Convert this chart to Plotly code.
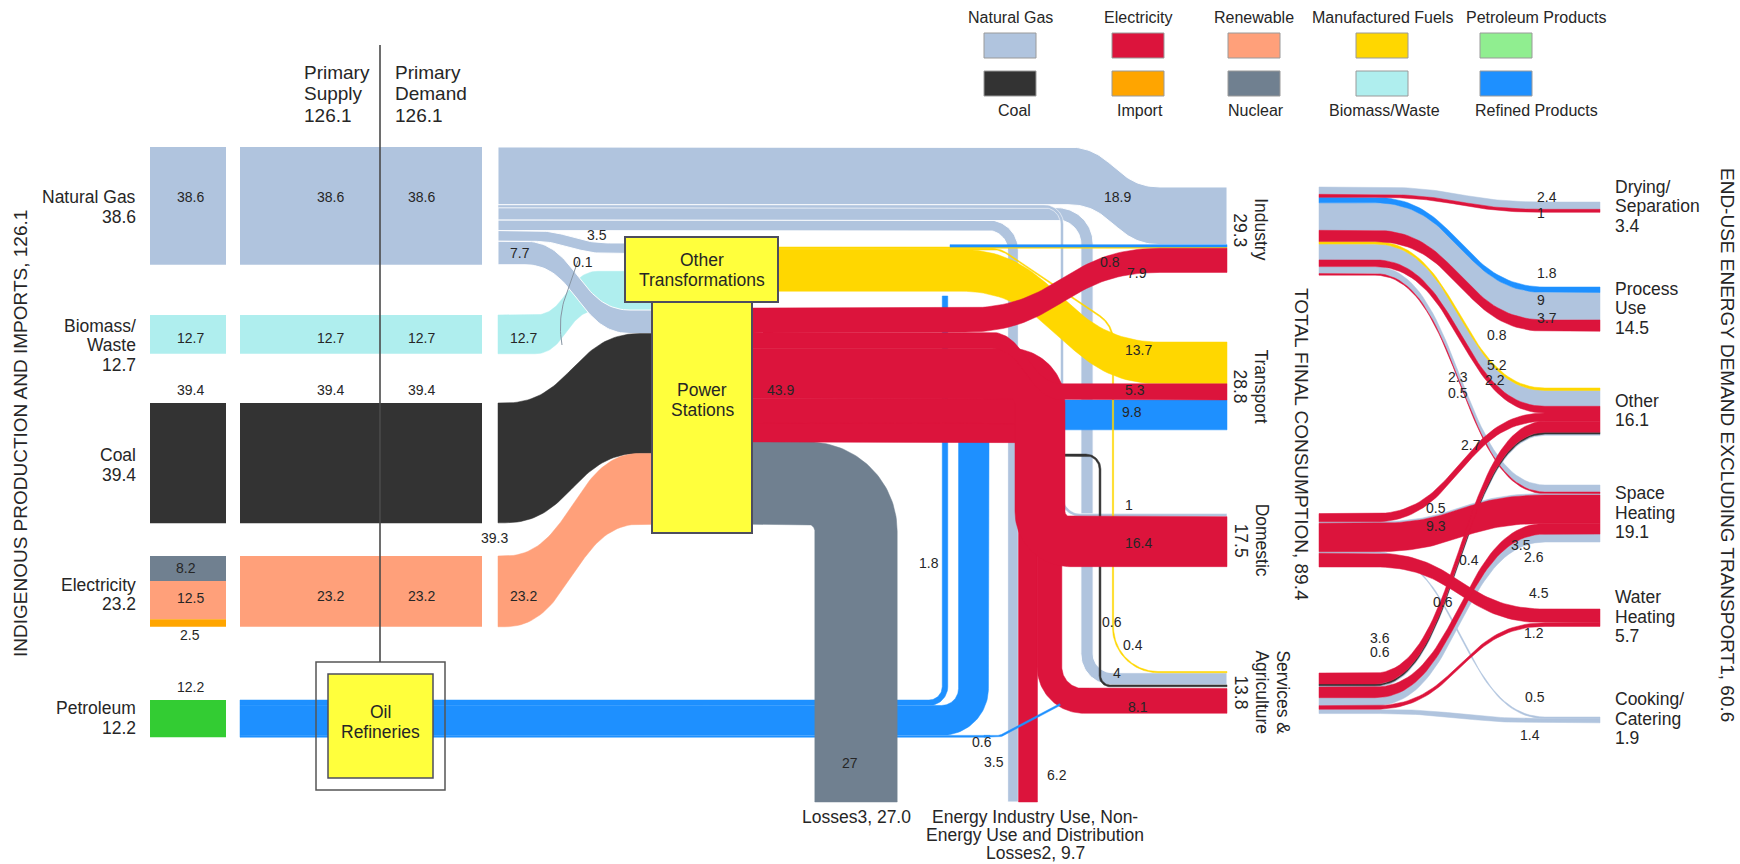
import numpy as np
import plotly.graph_objects as go

# ======================= DATA =======================
source_names = ["Natural Gas", "Biomass/Waste", "Coal", "Electricity", "Petroleum"]
source_values = [38.6, 12.7, 39.4, 23.2, 12.2]
elec_part_names = ["Nuclear", "Renewable", "Import"]
elec_part_values = [8.2, 12.5, 2.5]
primary_supply = 126.1
primary_demand = 126.1

gas_targets = ["Industry", "Domestic", "Services", "Energy Industry", "Other Transformations", "Power Stations"]
gas_values = [18.9, 1.0, 4.0, 3.5, 3.5, 7.7]
gas_minor = 0.1

coal_to_power = 39.3
biomass_to_power = 12.7
elec_to_power = 23.2

power_out_names = ["Electricity", "Losses"]
power_out_values = [43.9, 27.0]

elec_targets = ["Industry", "Transport", "Domestic", "Services", "Energy Industry"]
elec_values = [7.9, 5.3, 16.4, 8.1, 6.2]

manuf_targets = ["Industry", "Services", "Transport"]
manuf_values = [0.4, 0.4, 13.7]

refined_targets = ["Industry", "Transport", "Services"]
refined_values = [1.8, 9.8, 0.6]
refined_industry_value = 0.8
coal_services_value = 0.6

final_names = ["Industry", "Transport", "Domestic", "Services & Agriculture"]
final_values = [29.3, 28.8, 17.5, 13.8]
total_final = 89.4
losses_total = 27.0
eiu_total = 9.7

enduse_names = ["Drying/Separation", "Process Use", "Other", "Space Heating", "Water Heating", "Cooking/Catering"]
enduse_values = [3.4, 14.5, 16.1, 19.1, 5.7, 1.9]
enduse_total = 60.6

eu_source = ["Industry"] * 10 + ["Domestic"] * 5 + ["Services"] * 7
eu_target = ["Drying/Separation", "Drying/Separation", "Process Use", "Process Use", "Process Use",
             "Other", "Other", "Other", "Space Heating", "Space Heating",
             "Other", "Space Heating", "Space Heating", "Cooking/Catering", "Water Heating",
             "Other", "Other", "Other", "Space Heating", "Space Heating", "Water Heating", "Cooking/Catering"]
eu_fuel = ["gas", "elec", "refined", "gas", "elec", "manuf", "gas", "elec", "gas", "elec",
           "elec", "gas", "elec", "gas", "elec",
           "elec", "coal", "gas", "elec", "gas", "elec", "gas"]
eu_value = [2.4, 1.0, 1.8, 9.0, 3.7, 0.8, 5.2, 2.2, 2.3, 0.5,
            2.7, 0.5, 9.3, 0.5, 4.5,
            3.6, 0.6, 0.4, 3.5, 2.6, 1.2, 1.4]

legend_row1 = ["Natural Gas", "Electricity", "Renewable", "Manufactured Fuels", "Petroleum Products"]
legend_row2 = ["Coal", "Import", "Nuclear", "Biomass/Waste", "Refined Products"]

# ======================= STYLE / LAYOUT =======================
K = 3.05                      # pixels per unit of energy
FONT = "Liberation Sans, Arial, Helvetica, sans-serif"
TXT = "#262626"
C = {"gas": "#B0C4DE", "elec": "#DC143C", "renew": "#FFA07A", "manuf": "#FFD700",
     "petrol": "#90EE90", "coal": "#333333", "import": "#FFA500", "nuclear": "#708090",
     "biomass": "#AFEEEE", "refined": "#1E90FF", "petrol_box": "#33CC33", "box": "#FFFF3C",
     "edge": "#4D4D5E"}
SRC_COLOR = [C["gas"], C["biomass"], C["coal"], C["renew"], C["petrol_box"]]
PART_COLOR = [C["nuclear"], C["renew"], C["import"]]
FUEL_COLOR = {"gas": C["gas"], "elec": C["elec"], "refined": C["refined"], "manuf": C["manuf"], "coal": C["coal"]}
LEG_C1 = [C["gas"], C["elec"], C["renew"], C["manuf"], C["petrol"]]
LEG_C2 = [C["coal"], C["import"], C["nuclear"], C["biomass"], C["refined"]]

X1 = (150, 226)
X2 = (240, 482)
XDIV = 380
XF = 498
ROW_TOP = [147, 315, 403, 556, 700]
NAME_Y = [207, 345, 465, 594.5, 718]
VAL_Y = [197, 338, None, 596, None]
VAL_X = (190, 330, 421)
OT_BOX = (625, 778, 237, 302)
PS_BOX = (652, 752, 302, 533)
OIL_OUT = (316, 445, 662, 790)
OIL_IN = (328, 433, 674, 778)
PS_IN_TOP = 271.3
PS_OUT_TOP = 308
OT_IN_Y = 243
OT_OUT_TOP = 247
BAR_X1 = 1227
BAR_X0 = 1160
BAR_TOP = {"Industry": 187, "Transport": 342, "Domestic": 513.6, "Services": 671.5}
Y_BOTTOM = 802
EU_XL, EU_C0, EU_C1, EU_XR = 1319, 1375, 1545, 1600
EU_SRC_TOP = {"Industry": 187, "Domestic": 513.6, "Services": 673}
EU_TGT_TOP = {"Drying/Separation": 202, "Process Use": 287, "Other": 388,
              "Space Heating": 485, "Water Heating": 609, "Cooking/Catering": 717}
EU_LABEL_POS = [(1547, 197), (1541, 213), (1547, 273), (1541, 300), (1547, 318), (1497, 335),
                (1497, 365), (1495, 380), (1458, 377), (1458, 393), (1471, 445), (1436, 508),
                (1436, 526), (1535, 697), (1539, 593), (1380, 638), (1380, 652), (1469, 560),
                (1521, 545), (1534, 557), (1534, 633), (1530, 735)]
EU_EXTRA_LABEL = [(16, 1443, 602)]
LEG_X = [984, 1112, 1228, 1356, 1480]
LEG_W = 52
LEG_T1_SHIFT = [0, 0, 0, 0, 30]
LEG_T2_SHIFT = [4, 2, 2, 2, 30]

fig = go.Figure()
shapes = []
annos = []


def fmt(v):
    return f"{v:g}"


def fmt1(v):
    return f"{v:.1f}"


def stack(top, vals):
    out, y = [], top
    for v in vals:
        out.append((y, y + v * K))
        y += v * K
    return out


def mid(p):
    return (p[0] + p[1]) / 2


def bez(p0, p1, p2, p3, n=48):
    t = np.linspace(0, 1, n)[:, None]
    p0, p1, p2, p3 = (np.array(p, float) for p in (p0, p1, p2, p3))
    return (1 - t) ** 3 * p0 + 3 * (1 - t) ** 2 * t * p1 + 3 * (1 - t) * t ** 2 * p2 + t ** 3 * p3


def sankey_poly(xa, x0, y0, x1, y1, xb, w):
    xm = (x0 + x1) / 2
    top = bez((x0, y0), (xm, y0), (xm, y1), (x1, y1))
    bot = bez((x1, y1 + w), (xm, y1 + w), (xm, y0 + w), (x0, y0 + w))
    xs = [xa] + list(top[:, 0]) + [xb, xb] + list(bot[:, 0]) + [xa, xa]
    ys = [y0] + list(top[:, 1]) + [y1, y1 + w] + list(bot[:, 1]) + [y0 + w, y0]
    return xs, ys


def route_poly(pts, w, radii):
    pts = [np.array(p, float) for p in pts]
    samples = []
    d0 = pts[1] - pts[0]
    samples.append((pts[0], d0 / np.linalg.norm(d0)))
    n_int = len(pts) - 2
    for i in range(1, len(pts) - 1):
        A, B, Cc = pts[i - 1], pts[i], pts[i + 1]
        u = A - B
        lu = np.linalg.norm(u)
        u = u / lu
        v = Cc - B
        lv = np.linalg.norm(v)
        v = v / lv
        phi = np.arccos(np.clip(np.dot(u, v), -1, 1))
        r = radii[i - 1]
        if phi > np.pi - 1e-6 or r <= 0:
            samples.append((B, -u))
            continue
        t = r / np.tan(phi / 2)
        tmax = min(lu if i == 1 else lu / 2, lv if i == n_int else lv / 2)
        if t > tmax:
            t = tmax
            r = t * np.tan(phi / 2)
        T1 = B + u * t
        T2 = B + v * t
        bis = (u + v) / np.linalg.norm(u + v)
        O = B + bis * (r / np.sin(phi / 2))
        a1 = np.arctan2(T1[1] - O[1], T1[0] - O[0])
        a2 = np.arctan2(T2[1] - O[1], T2[0] - O[0])
        da = (a2 - a1 + np.pi) % (2 * np.pi) - np.pi
        n = max(10, int(abs(da) * r / 2) + 10)
        for a in np.linspace(a1, a1 + da, n):
            p = O + r * np.array([np.cos(a), np.sin(a)])
            tg = np.array([-np.sin(a), np.cos(a)]) * np.sign(da)
            samples.append((p, tg))
    dn = pts[-1] - pts[-2]
    samples.append((pts[-1], dn / np.linalg.norm(dn)))
    left, right = [], []
    for p, tg in samples:
        nrm = np.array([-tg[1], tg[0]])
        left.append(p + nrm * w / 2)
        right.append(p - nrm * w / 2)
    poly = left + right[::-1] + [left[0]]
    return [q[0] for q in poly], [q[1] for q in poly]


def add_poly(xy, color, outline=None, ow=1.0):
    xs, ys = xy
    fig.add_trace(go.Scatter(x=xs, y=ys, mode="lines", fill="toself", fillcolor=color,
                             line=dict(width=ow if outline else 0.5, color=outline if outline else color),
                             hoverinfo="skip", showlegend=False))


def add_line(xs, ys, color, width):
    fig.add_trace(go.Scatter(x=xs, y=ys, mode="lines", line=dict(width=width, color=color),
                             hoverinfo="skip", showlegend=False))


def rect(x0, x1, y0, y1, fill, line_color=None, lw=0, layer="above"):
    shapes.append(dict(type="rect", xref="x", yref="y", x0=x0, x1=x1, y0=y0, y1=y1, layer=layer,
                       fillcolor=fill, line=dict(color=line_color or fill, width=lw)))


def label(x, y, s, size=14, xanchor="center", angle=0, color=TXT):
    annos.append(dict(x=x, y=y, xref="x", yref="y", text=s, showarrow=False, xanchor=xanchor,
                      yanchor="middle", textangle=angle, borderpad=0,
                      font=dict(family=FONT, size=size, color=color)))


def label_lines(x, yc, lines, size, spacing, xanchor="center", angle=0):
    n = len(lines)
    for i, s in enumerate(lines):
        off = (i - (n - 1) / 2) * spacing
        if angle == 90:
            label(x - off, yc, s, size, angle=90)
        else:
            label(x, yc + off, s, size, xanchor=xanchor)


def split_name(n, words=True):
    if "/" in n:
        a, b = n.split("/")
        return [a + "/", b]
    if n.startswith("Services"):
        return ["Services &amp;", "Agriculture"]
    return n.split(" ") if words else [n]


# ======================= LEFT COLUMNS =======================
for i, name in enumerate(source_names):
    top = ROW_TOP[i]
    h = source_values[i] * K
    if name == "Electricity":
        for (a, b), col, v in zip(stack(top, elec_part_values), PART_COLOR, elec_part_values):
            rect(X1[0], X1[1], a, b, col, layer="below")
        rect(X2[0], X2[1], top, top + h, C["renew"], layer="below")
    elif name == "Petroleum":
        rect(X1[0], X1[1], top, top + h, C["petrol_box"], layer="below")
    else:
        rect(X1[0], X1[1], top, top + h, SRC_COLOR[i], layer="below")
        rect(X2[0], X2[1], top, top + h, SRC_COLOR[i], layer="below")
    label_lines(137, NAME_Y[i], split_name(name, words=False) + [fmt1(source_values[i])], 17.5, 19.5,
                xanchor="right")

# value labels in the columns
for i, name in enumerate(source_names):
    v = fmt(source_values[i])
    top = ROW_TOP[i]
    if name in ("Natural Gas", "Biomass/Waste"):
        for x in VAL_X:
            label(x, VAL_Y[i], v, 14)
    elif name == "Coal":
        for x in VAL_X:
            label(x, top - 13, v, 14)
    elif name == "Electricity":
        parts = stack(top, elec_part_values)
        label(VAL_X[0] - 4, mid(parts[0]) - 1, fmt(elec_part_values[0]), 14)
        label(VAL_X[0], mid(parts[1]) - 2, fmt(elec_part_values[1]), 14)
        label(VAL_X[0], parts[2][1] + 8, fmt(elec_part_values[2]), 14)
        label(VAL_X[1], VAL_Y[i], v, 14)
        label(VAL_X[2], VAL_Y[i], v, 14)
    else:
        label(VAL_X[0], top - 13, v, 14)

# ======================= STACK POSITIONS =======================
G = dict(zip(gas_targets, stack(ROW_TOP[0], gas_values)))
ind_st = stack(BAR_TOP["Industry"], [gas_values[0], refined_industry_value, manuf_values[0], elec_values[0]])
trn_st = stack(BAR_TOP["Transport"], [manuf_values[2], elec_values[1], refined_values[1]])
dom_st = stack(BAR_TOP["Domestic"], [gas_values[1], elec_values[2]])
srv_st = stack(BAR_TOP["Services"], [manuf_values[1], gas_values[2], coal_services_value,
                                     refined_values[2], elec_values[3]])
ps_in = stack(PS_IN_TOP, [biomass_to_power, gas_values[5], coal_to_power, elec_to_power])
ps_out = stack(PS_OUT_TOP, power_out_values)
el_st = stack(PS_OUT_TOP, elec_values)
mf_st = stack(OT_OUT_TOP, manuf_values)
rf_st = stack(ROW_TOP[4], refined_values)
W = lambda v: v * K
WHITE = "rgba(255,255,255,0.95)"

# ======================= MIDDLE FLOWS =======================
# gas pipes
m = mid(G["Energy Industry"])
add_poly(route_poly([(XF, m), (1013, m), (1013, Y_BOTTOM)], W(gas_values[3]), [25]), C["gas"], WHITE)
m = mid(G["Services"])
add_poly(route_poly([(XF, m), (1087, m), (1087, mid(srv_st[1])), (BAR_X1, mid(srv_st[1]))],
                    W(gas_values[2]), [30, 25]), C["gas"], WHITE)
m = mid(G["Domestic"])
add_poly(route_poly([(XF, m), (1062, m), (1062, mid(dom_st[0])), (BAR_X1, mid(dom_st[0]))],
                    W(gas_values[1]), [18, 18]), C["gas"], WHITE, 0.6)
add_poly(sankey_poly(XF, 1068, G["Industry"][0], BAR_X0, ind_st[0][0], BAR_X1, W(gas_values[0])), C["gas"], WHITE)
add_poly(sankey_poly(XF, 530, G["Other Transformations"][0], 612, OT_IN_Y, 645, W(gas_values[4])), C["gas"], WHITE)

# coal thin line to services
add_poly(route_poly([(1030, 455), (1100, 455), (1100, mid(srv_st[2])), (BAR_X1, mid(srv_st[2]))],
                    W(coal_services_value), [14, 10]), C["coal"])

# inputs to power stations
add_poly(sankey_poly(XF, 535, ROW_TOP[1], 598, ps_in[0][0], 660, W(biomass_to_power)), C["biomass"])
add_poly(sankey_poly(XF, 525, G["Power Stations"][0], 630, ps_in[1][0], 660, W(gas_values[5])), C["gas"], WHITE)
add_poly(sankey_poly(XF, 505, ROW_TOP[2], 640, ps_in[2][0], 660, W(coal_to_power)), C["coal"])
add_poly(sankey_poly(XF, 505, ROW_TOP[3], 640, ps_in[3][0], 660, W(elec_to_power)), C["renew"])
# tiny gas stream
gm = bez((578, G["Power Stations"][1] - 4), (568, 290), (556, 310), (562, 345), 30)
add_line(gm[:, 0], gm[:, 1], "#8795A3", 1)

# refined products
m = mid(rf_st[0])
add_poly(route_poly([(X2[0], m), (945, m), (945, 296)], W(refined_values[0]), [16]), C["refined"])
m = mid(rf_st[1])
add_poly(route_poly([(X2[0], m), (973.5, m), (973.5, mid(trn_st[2])), (BAR_X1, mid(trn_st[2]))],
                    W(refined_values[1]), [32, 26]), C["refined"])
m = mid(rf_st[2])
add_poly(route_poly([(X2[0], m), (990, m)], W(refined_values[2]), []), C["refined"])

# losses
m = mid(ps_out[1])
add_poly(route_poly([(PS_BOX[1], m), (856, m), (856, Y_BOTTOM)], W(power_out_values[1]), [48]), C["nuclear"])

# manufactured fuels
add_poly(route_poly([(OT_BOX[1], mid(mf_st[1])), (1000, mid(mf_st[1])), (1113, 325),
                     (1113, mid(srv_st[0])), (BAR_X1, mid(srv_st[0]))], W(manuf_values[1]), [30, 30, 45]), C["manuf"])
add_poly(sankey_poly(OT_BOX[1], 960, mf_st[0][0], BAR_X0, ind_st[2][0], BAR_X1, W(manuf_values[0])), C["manuf"])
add_poly(sankey_poly(OT_BOX[1], 960, mf_st[2][0], BAR_X0, trn_st[0][0], BAR_X1, W(manuf_values[2])), C["manuf"])
add_poly(sankey_poly(950, 955, ind_st[1][0], BAR_X0, ind_st[1][0], BAR_X1, W(refined_industry_value)), C["refined"])

# electricity from power stations
m = mid(el_st[4])
add_poly(route_poly([(PS_BOX[1], m), (1028, m), (1028, Y_BOTTOM)], W(elec_values[4]), [14]), C["elec"])
m = mid(el_st[3])
add_poly(route_poly([(PS_BOX[1], m), (1049.5, m), (1049.5, mid(srv_st[4])), (BAR_X1, mid(srv_st[4]))],
                    W(elec_values[3]), [22, 34]), C["elec"])
m = mid(el_st[2])
add_poly(route_poly([(PS_BOX[1], m), (1040, m), (1040, mid(dom_st[1])), (BAR_X1, mid(dom_st[1]))],
                    W(elec_values[2]), [30, 30]), C["elec"])
add_poly(sankey_poly(PS_BOX[1], 990, el_st[1][0], 1063, trn_st[1][0], BAR_X1, W(elec_values[1])), C["elec"])
add_poly(sankey_poly(PS_BOX[1], 965, el_st[0][0], BAR_X0, ind_st[3][0], BAR_X1, W(elec_values[0])), C["elec"])
# refined to services (thin diagonal on top)
m = mid(rf_st[2])
add_poly(route_poly([(984, m), (1000, m), (1060, 704.5)], W(refined_values[2]), [8]), C["refined"])

# ======================= END-USE LINKS =======================
src_run = dict(EU_SRC_TOP)
tgt_run = dict(EU_TGT_TOP)
links = []
for s, t, f, v in zip(eu_source, eu_target, eu_fuel, eu_value):
    ys = src_run[s]
    yt = tgt_run[t]
    src_run[s] += v * K
    tgt_run[t] += v * K
    links.append((ys, yt, f, v))
prio = {"gas": 0, "coal": 1, "manuf": 2, "refined": 3, "elec": 4}
for idx in sorted(range(len(links)), key=lambda k: (prio[links[k][2]], k)):
    ys, yt, f, v = links[idx]
    add_poly(sankey_poly(EU_XL, EU_C0, ys, EU_C1, yt, EU_XR, v * K), FUEL_COLOR[f])
for k, (x, y) in enumerate(EU_LABEL_POS):
    label(x, y, fmt(eu_value[k]), 14)
for k, x, y in EU_EXTRA_LABEL:
    label(x, y, fmt(eu_value[k]), 14)
for name, v in zip(enduse_names, enduse_values):
    yc = (EU_TGT_TOP[name] + tgt_run[name]) / 2 - 1
    label_lines(1614, yc, split_name(name) + [fmt1(v)], 17.5, 19.5, xanchor="left")

# ======================= BOXES =======================
rect(*OT_BOX[:2], *OT_BOX[2:], C["box"], C["edge"], 2)
rect(*PS_BOX[:2], *PS_BOX[2:], C["box"], C["edge"], 2)
rect(*OIL_OUT[:2], *OIL_OUT[2:], "rgba(0,0,0,0)", "#555555", 1.5)
rect(*OIL_IN[:2], *OIL_IN[2:], C["box"], C["edge"], 1.5)
shapes.append(dict(type="line", xref="x", yref="y", x0=XDIV, x1=XDIV, y0=45, y1=OIL_OUT[2],
                   line=dict(color="#4a4a4a", width=1.6), layer="above"))
label_lines((OT_BOX[0] + OT_BOX[1]) / 2, (OT_BOX[2] + OT_BOX[3]) / 2, ["Other", "Transformations"], 17.5, 20)
label_lines((PS_BOX[0] + PS_BOX[1]) / 2, 400, ["Power", "Stations"], 17.5, 20)
label_lines((OIL_IN[0] + OIL_IN[1]) / 2, (OIL_IN[2] + OIL_IN[3]) / 2 - 4, ["Oil", "Refineries"], 17.5, 20)

# ======================= MIDDLE LABELS =======================
mid_labels = [
    (597, 235, gas_values[4]), (520, 253, gas_values[5]), (583, 262, gas_minor),
    (523, 338, biomass_to_power), (523, 596, elec_to_power), (494, 538, coal_to_power),
    (780, 390, power_out_values[0]), (1117, 197, gas_values[0]), (1110, 262, refined_industry_value),
    (1137, 273, elec_values[0]), (1138, 350, manuf_values[2]), (1135, 390, elec_values[1]),
    (1132, 412, refined_values[1]), (1129, 505, gas_values[1]), (1138, 543, elec_values[2]),
    (1112, 622, coal_services_value), (1133, 645, manuf_values[1]), (1117, 673, gas_values[2]),
    (1138, 707, elec_values[3]), (929, 563, refined_values[0]), (982, 742, refined_values[2]),
    (850, 763, power_out_values[1]), (994, 762, gas_values[3]), (1057, 775, elec_values[4]),
]
for x, y, v in mid_labels:
    label(x, y, fmt(v), 14)

# sector labels (rotated) next to the final consumption bars
bar_spans = [(ind_st[0][0], ind_st[-1][1]), (trn_st[0][0], trn_st[-1][1]),
             (dom_st[0][0], dom_st[-1][1]), (srv_st[0][0], srv_st[-1][1])]
for name, v, sp in zip(final_names, final_values, bar_spans):
    lines = split_name(name) if name.startswith("Services") else [name]
    lines = lines + [fmt1(v)]
    n = len(lines)
    xc = 1251 + (n - 2) * 11
    label_lines(xc, mid(sp), lines, 17.5, 21, angle=90)

# bottom sinks
label(856, 817, f"Losses3, {fmt1(losses_total)}", 17.5)
label_lines(1035, 835, ["Energy Industry Use, Non-", "Energy Use and Distribution", f"Losses2, {fmt1(eiu_total)}"], 17.5, 18)

# titles
label(20, 434, f"INDIGENOUS PRODUCTION AND IMPORTS, {fmt1(primary_supply)}", 19, angle=-90)
label(1302, 444, f"TOTAL FINAL CONSUMPTION, {fmt1(total_final)}", 19, angle=90)
label(1728, 445, f"END-USE ENERGY DEMAND EXCLUDING TRANSPORT1, {fmt1(enduse_total)}", 19, angle=90)
label_lines(303, 93.5, ["Primary", "Supply", fmt1(primary_supply)], 19, 21.5, xanchor="left")
label_lines(394, 93.5, ["Primary", "Demand", fmt1(primary_demand)], 19, 21.5, xanchor="left")

# ======================= LEGEND =======================
for i in range(5):
    x0 = LEG_X[i]
    rect(x0, x0 + LEG_W, 33, 58, LEG_C1[i], "#9a9a9a", 1)
    rect(x0, x0 + LEG_W, 71, 96, LEG_C2[i], "#9a9a9a", 1)
    label(x0 + LEG_W / 2 + LEG_T1_SHIFT[i], 17, legend_row1[i], 16)
    label(x0 + LEG_W / 2 + LEG_T2_SHIFT[i], 110, legend_row2[i], 16)

fig.update_layout(
    width=1740, height=864, margin=dict(l=0, r=0, t=0, b=0, pad=0),
    paper_bgcolor="white", plot_bgcolor="white", showlegend=False,
    xaxis=dict(range=[0, 1740], visible=False, fixedrange=True),
    yaxis=dict(range=[864, 0], visible=False, fixedrange=True),
    shapes=shapes, annotations=annos,
)
fig.write_html("out.html", config={"displayModeBar": False},
               post_script="document.body.style.margin='0';document.body.style.overflow='hidden';")
